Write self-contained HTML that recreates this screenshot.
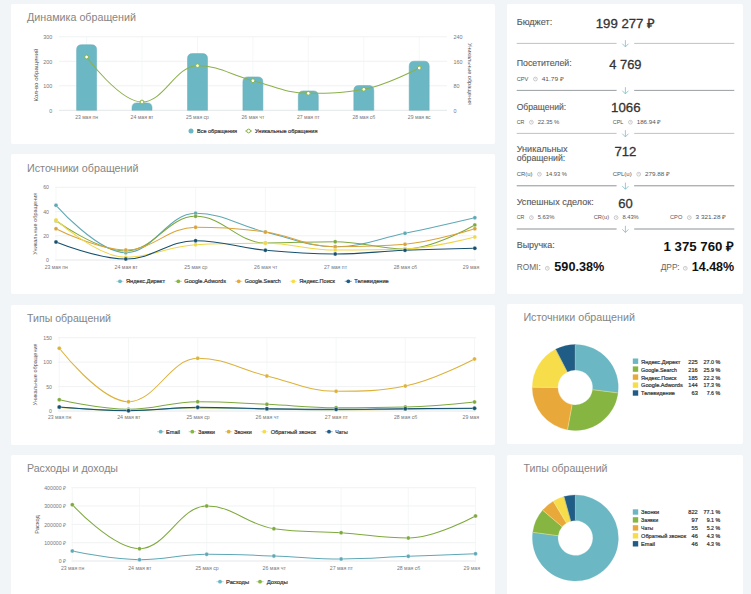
<!DOCTYPE html>
<html><head><meta charset="utf-8"><title>Dashboard</title>
<style>
html,body{margin:0;padding:0}
body{width:751px;height:594px;overflow:hidden;background:#f2f5f8;font-family:"Liberation Sans",sans-serif;position:relative}
#w{position:absolute;left:-20px;top:-20px;width:791px;height:634px;background:#f2f5f8}
#c{position:absolute;left:20px;top:20px;width:751px;height:594px}
.p{position:absolute;background:#fff;border-radius:2px}
svg{position:absolute;left:0;top:0;font-family:"Liberation Sans",sans-serif}
</style></head><body><div id="w"><div id="c">
<div class="p" style="left:11px;top:4px;width:484px;height:140.2px"></div>
<div class="p" style="left:11px;top:154.4px;width:484px;height:139.8px"></div>
<div class="p" style="left:11px;top:304.8px;width:484px;height:140px"></div>
<div class="p" style="left:11px;top:455.2px;width:484px;height:140px"></div>
<div class="p" style="left:507.4px;top:4px;width:235.4px;height:289.7px"></div>
<div class="p" style="left:507.4px;top:304.3px;width:235.4px;height:139.8px"></div>
<div class="p" style="left:507.4px;top:455.2px;width:235.4px;height:140px"></div>
<svg width="751" height="594" viewBox="0 0 751 594">
<line x1="59" y1="110.3" x2="447" y2="110.3" stroke="#d8dde0" stroke-width="0.7"/>
<text x="52.3" y="112.5" font-size="5.2" fill="#777" text-anchor="end" textLength="3.0" lengthAdjust="spacingAndGlyphs">0</text>
<text x="453.5" y="112.5" font-size="5.2" fill="#777" textLength="3.0" lengthAdjust="spacingAndGlyphs">0</text>
<line x1="59" y1="85.8" x2="447" y2="85.8" stroke="#e9ecee" stroke-width="0.7"/>
<text x="52.3" y="88.0" font-size="5.2" fill="#777" text-anchor="end" textLength="9.0" lengthAdjust="spacingAndGlyphs">100</text>
<text x="453.5" y="88.0" font-size="5.2" fill="#777" textLength="6.0" lengthAdjust="spacingAndGlyphs">80</text>
<line x1="59" y1="61.3" x2="447" y2="61.3" stroke="#e9ecee" stroke-width="0.7"/>
<text x="52.3" y="63.5" font-size="5.2" fill="#777" text-anchor="end" textLength="9.0" lengthAdjust="spacingAndGlyphs">200</text>
<text x="453.5" y="63.5" font-size="5.2" fill="#777" textLength="9.0" lengthAdjust="spacingAndGlyphs">160</text>
<line x1="59" y1="36.8" x2="447" y2="36.8" stroke="#e9ecee" stroke-width="0.7"/>
<text x="52.3" y="39.0" font-size="5.2" fill="#777" text-anchor="end" textLength="9.0" lengthAdjust="spacingAndGlyphs">300</text>
<text x="453.5" y="39.0" font-size="5.2" fill="#777" textLength="9.0" lengthAdjust="spacingAndGlyphs">240</text>
<line x1="86.6" y1="36.8" x2="86.6" y2="110.3" stroke="#f1f3f4" stroke-width="0.7"/>
<line x1="142.0" y1="36.8" x2="142.0" y2="110.3" stroke="#f1f3f4" stroke-width="0.7"/>
<line x1="197.5" y1="36.8" x2="197.5" y2="110.3" stroke="#f1f3f4" stroke-width="0.7"/>
<line x1="252.9" y1="36.8" x2="252.9" y2="110.3" stroke="#f1f3f4" stroke-width="0.7"/>
<line x1="308.3" y1="36.8" x2="308.3" y2="110.3" stroke="#f1f3f4" stroke-width="0.7"/>
<line x1="363.8" y1="36.8" x2="363.8" y2="110.3" stroke="#f1f3f4" stroke-width="0.7"/>
<line x1="419.2" y1="36.8" x2="419.2" y2="110.3" stroke="#f1f3f4" stroke-width="0.7"/>
<path d="M76.6,110.3 V49.7 Q76.6,44.7 81.6,44.7 H91.6 Q96.6,44.7 96.6,49.7 V110.3 Z" fill="#6bb8c4" stroke="#62adb9" stroke-width="0.5"/>
<path d="M132.0,110.3 V107.6 Q132.0,102.9 136.7,102.9 H147.3 Q152.0,102.9 152.0,107.6 V110.3 Z" fill="#6bb8c4" stroke="#62adb9" stroke-width="0.5"/>
<path d="M187.5,110.3 V58.6 Q187.5,53.6 192.5,53.6 H202.5 Q207.5,53.6 207.5,58.6 V110.3 Z" fill="#6bb8c4" stroke="#62adb9" stroke-width="0.5"/>
<path d="M242.9,110.3 V81.9 Q242.9,76.9 247.9,76.9 H257.9 Q262.9,76.9 262.9,81.9 V110.3 Z" fill="#6bb8c4" stroke="#62adb9" stroke-width="0.5"/>
<path d="M298.3,110.3 V95.9 Q298.3,90.9 303.3,90.9 H313.3 Q318.3,90.9 318.3,95.9 V110.3 Z" fill="#6bb8c4" stroke="#62adb9" stroke-width="0.5"/>
<path d="M353.8,110.3 V90.5 Q353.8,85.5 358.8,85.5 H368.8 Q373.8,85.5 373.8,90.5 V110.3 Z" fill="#6bb8c4" stroke="#62adb9" stroke-width="0.5"/>
<path d="M409.2,110.3 V66.2 Q409.2,61.2 414.2,61.2 H424.2 Q429.2,61.2 429.2,66.2 V110.3 Z" fill="#6bb8c4" stroke="#62adb9" stroke-width="0.5"/>
<path d="M86.60,57.00 C86.60,57.00 119.86,102.00 142.03,102.00 C164.20,102.00 175.29,65.70 197.46,65.70 C219.63,65.70 230.72,75.18 252.89,80.70 C275.06,86.22 286.15,93.30 308.32,93.30 C330.49,93.30 341.58,93.30 363.75,89.30 C385.92,85.30 419.18,68.00 419.18,68.00" fill="none" stroke="#8bb04a" stroke-width="1.05"/>
<circle cx="86.6" cy="57.0" r="1.9" fill="#fff" stroke="#86b541" stroke-width="1"/>
<circle cx="142.0" cy="102.0" r="1.9" fill="#fff" stroke="#86b541" stroke-width="1"/>
<circle cx="197.5" cy="65.7" r="1.9" fill="#fff" stroke="#86b541" stroke-width="1"/>
<circle cx="252.9" cy="80.7" r="1.9" fill="#fff" stroke="#86b541" stroke-width="1"/>
<circle cx="308.3" cy="93.3" r="1.9" fill="#fff" stroke="#86b541" stroke-width="1"/>
<circle cx="363.8" cy="89.3" r="1.9" fill="#fff" stroke="#86b541" stroke-width="1"/>
<circle cx="419.2" cy="68.0" r="1.9" fill="#fff" stroke="#86b541" stroke-width="1"/>
<text x="86.6" y="119.2" font-size="5.2" fill="#777" text-anchor="middle" textLength="22.8" lengthAdjust="spacingAndGlyphs">23 мая пн</text>
<text x="142.0" y="119.2" font-size="5.2" fill="#777" text-anchor="middle" textLength="22.8" lengthAdjust="spacingAndGlyphs">24 мая вт</text>
<text x="197.5" y="119.2" font-size="5.2" fill="#777" text-anchor="middle" textLength="22.8" lengthAdjust="spacingAndGlyphs">25 мая ср</text>
<text x="252.9" y="119.2" font-size="5.2" fill="#777" text-anchor="middle" textLength="22.8" lengthAdjust="spacingAndGlyphs">26 мая чт</text>
<text x="308.3" y="119.2" font-size="5.2" fill="#777" text-anchor="middle" textLength="22.8" lengthAdjust="spacingAndGlyphs">27 мая пт</text>
<text x="363.8" y="119.2" font-size="5.2" fill="#777" text-anchor="middle" textLength="22.8" lengthAdjust="spacingAndGlyphs">28 мая сб</text>
<text x="419.2" y="119.2" font-size="5.2" fill="#777" text-anchor="middle" textLength="22.8" lengthAdjust="spacingAndGlyphs">29 мая вс</text>
<text transform="translate(38.3,75) rotate(-90)" font-size="5.8" fill="#505050" text-anchor="middle" textLength="53" lengthAdjust="spacingAndGlyphs">Кол-во обращений</text>
<text transform="translate(468.2,74) rotate(90)" font-size="5.8" fill="#505050" text-anchor="middle" textLength="62" lengthAdjust="spacingAndGlyphs">Уникальные обращения</text>
<circle cx="191" cy="131" r="2.5" fill="#6bb8c4"/>
<text x="197.0" y="133.0" font-size="5.8" fill="#333" textLength="40.0" lengthAdjust="spacingAndGlyphs" stroke="#333" stroke-width="0.2">Все обращения</text>
<line x1="245.2" y1="131" x2="252" y2="131" stroke="#86b541" stroke-width="0.9"/>
<circle cx="248.6" cy="131" r="1.9" fill="#fff" stroke="#86b541" stroke-width="1"/>
<text x="255.0" y="133.0" font-size="5.8" fill="#333" textLength="62.5" lengthAdjust="spacingAndGlyphs" stroke="#333" stroke-width="0.2">Уникальные обращения</text>
<line x1="55" y1="260.0" x2="476" y2="260.0" stroke="#d8dde0" stroke-width="0.7"/>
<text x="49.0" y="262.1" font-size="5.2" fill="#777" text-anchor="end">0</text>
<line x1="55" y1="235.8" x2="476" y2="235.8" stroke="#e9ecee" stroke-width="0.7"/>
<text x="49.0" y="237.9" font-size="5.2" fill="#777" text-anchor="end">20</text>
<line x1="55" y1="211.5" x2="476" y2="211.5" stroke="#e9ecee" stroke-width="0.7"/>
<text x="49.0" y="213.6" font-size="5.2" fill="#777" text-anchor="end">40</text>
<line x1="55" y1="187.3" x2="476" y2="187.3" stroke="#e9ecee" stroke-width="0.7"/>
<text x="49.0" y="189.4" font-size="5.2" fill="#777" text-anchor="end">60</text>
<line x1="56.0" y1="187.3" x2="56.0" y2="260.0" stroke="#f1f3f4" stroke-width="0.7"/>
<line x1="125.8" y1="187.3" x2="125.8" y2="260.0" stroke="#f1f3f4" stroke-width="0.7"/>
<line x1="195.6" y1="187.3" x2="195.6" y2="260.0" stroke="#f1f3f4" stroke-width="0.7"/>
<line x1="265.4" y1="187.3" x2="265.4" y2="260.0" stroke="#f1f3f4" stroke-width="0.7"/>
<line x1="335.2" y1="187.3" x2="335.2" y2="260.0" stroke="#f1f3f4" stroke-width="0.7"/>
<line x1="405.0" y1="187.3" x2="405.0" y2="260.0" stroke="#f1f3f4" stroke-width="0.7"/>
<line x1="474.8" y1="187.3" x2="474.8" y2="260.0" stroke="#f1f3f4" stroke-width="0.7"/>
<path d="M56.00,205.30 C56.00,205.30 97.88,252.70 125.80,252.70 C153.72,252.70 167.68,213.30 195.60,213.30 C223.52,213.30 237.48,225.32 265.40,232.00 C293.32,238.68 307.28,246.70 335.20,246.70 C363.12,246.70 377.08,239.10 405.00,233.30 C432.92,227.50 474.80,217.70 474.80,217.70" fill="none" stroke="#5fa8b5" stroke-width="1.05"/>
<circle cx="56.0" cy="205.3" r="2.0" fill="#5fa8b5" stroke="#fff" stroke-width="0.3"/>
<circle cx="125.8" cy="252.7" r="2.0" fill="#5fa8b5" stroke="#fff" stroke-width="0.3"/>
<circle cx="195.6" cy="213.3" r="2.0" fill="#5fa8b5" stroke="#fff" stroke-width="0.3"/>
<circle cx="265.4" cy="232.0" r="2.0" fill="#5fa8b5" stroke="#fff" stroke-width="0.3"/>
<circle cx="335.2" cy="246.7" r="2.0" fill="#5fa8b5" stroke="#fff" stroke-width="0.3"/>
<circle cx="405.0" cy="233.3" r="2.0" fill="#5fa8b5" stroke="#fff" stroke-width="0.3"/>
<circle cx="474.8" cy="217.7" r="2.0" fill="#5fa8b5" stroke="#fff" stroke-width="0.3"/>
<path d="M56.00,220.70 C56.00,220.70 97.88,251.00 125.80,251.00 C153.72,251.00 167.68,216.30 195.60,216.30 C223.52,216.30 237.48,243.00 265.40,243.00 C293.32,243.00 307.28,241.70 335.20,241.70 C363.12,241.70 377.08,249.00 405.00,249.00 C432.92,249.00 474.80,225.00 474.80,225.00" fill="none" stroke="#7ea93d" stroke-width="1.05"/>
<circle cx="56.0" cy="220.7" r="2.0" fill="#7ea93d" stroke="#fff" stroke-width="0.3"/>
<circle cx="125.8" cy="251.0" r="2.0" fill="#7ea93d" stroke="#fff" stroke-width="0.3"/>
<circle cx="195.6" cy="216.3" r="2.0" fill="#7ea93d" stroke="#fff" stroke-width="0.3"/>
<circle cx="265.4" cy="243.0" r="2.0" fill="#7ea93d" stroke="#fff" stroke-width="0.3"/>
<circle cx="335.2" cy="241.7" r="2.0" fill="#7ea93d" stroke="#fff" stroke-width="0.3"/>
<circle cx="405.0" cy="249.0" r="2.0" fill="#7ea93d" stroke="#fff" stroke-width="0.3"/>
<circle cx="474.8" cy="225.0" r="2.0" fill="#7ea93d" stroke="#fff" stroke-width="0.3"/>
<path d="M56.00,228.70 C56.00,228.70 97.88,250.00 125.80,250.00 C153.72,250.00 167.68,227.30 195.60,227.30 C223.52,227.30 237.48,228.12 265.40,232.00 C293.32,235.88 307.28,246.70 335.20,246.70 C363.12,246.70 377.08,246.70 405.00,244.30 C432.92,241.90 474.80,228.70 474.80,228.70" fill="none" stroke="#d9a339" stroke-width="1.05"/>
<circle cx="56.0" cy="228.7" r="2.0" fill="#d9a339" stroke="#fff" stroke-width="0.3"/>
<circle cx="125.8" cy="250.0" r="2.0" fill="#d9a339" stroke="#fff" stroke-width="0.3"/>
<circle cx="195.6" cy="227.3" r="2.0" fill="#d9a339" stroke="#fff" stroke-width="0.3"/>
<circle cx="265.4" cy="232.0" r="2.0" fill="#d9a339" stroke="#fff" stroke-width="0.3"/>
<circle cx="335.2" cy="246.7" r="2.0" fill="#d9a339" stroke="#fff" stroke-width="0.3"/>
<circle cx="405.0" cy="244.3" r="2.0" fill="#d9a339" stroke="#fff" stroke-width="0.3"/>
<circle cx="474.8" cy="228.7" r="2.0" fill="#d9a339" stroke="#fff" stroke-width="0.3"/>
<path d="M56.00,220.00 C56.00,220.00 97.88,257.30 125.80,257.30 C153.72,257.30 167.68,246.10 195.60,244.70 C223.52,243.30 237.48,243.30 265.40,243.30 C293.32,243.30 307.28,250.00 335.20,250.00 C363.12,250.00 377.08,250.00 405.00,249.00 C432.92,248.00 474.80,237.00 474.80,237.00" fill="none" stroke="#f0d748" stroke-width="1.05"/>
<circle cx="56.0" cy="220.0" r="2.0" fill="#f0d748" stroke="#fff" stroke-width="0.3"/>
<circle cx="125.8" cy="257.3" r="2.0" fill="#f0d748" stroke="#fff" stroke-width="0.3"/>
<circle cx="195.6" cy="244.7" r="2.0" fill="#f0d748" stroke="#fff" stroke-width="0.3"/>
<circle cx="265.4" cy="243.3" r="2.0" fill="#f0d748" stroke="#fff" stroke-width="0.3"/>
<circle cx="335.2" cy="250.0" r="2.0" fill="#f0d748" stroke="#fff" stroke-width="0.3"/>
<circle cx="405.0" cy="249.0" r="2.0" fill="#f0d748" stroke="#fff" stroke-width="0.3"/>
<circle cx="474.8" cy="237.0" r="2.0" fill="#f0d748" stroke="#fff" stroke-width="0.3"/>
<path d="M56.00,242.00 C56.00,242.00 97.88,259.00 125.80,259.00 C153.72,259.00 167.68,240.70 195.60,240.70 C223.52,240.70 237.48,247.64 265.40,250.30 C293.32,252.96 307.28,254.00 335.20,254.00 C363.12,254.00 377.08,251.44 405.00,250.30 C432.92,249.16 474.80,248.30 474.80,248.30" fill="none" stroke="#16506f" stroke-width="1.05"/>
<circle cx="56.0" cy="242.0" r="2.0" fill="#16506f" stroke="#fff" stroke-width="0.3"/>
<circle cx="125.8" cy="259.0" r="2.0" fill="#16506f" stroke="#fff" stroke-width="0.3"/>
<circle cx="195.6" cy="240.7" r="2.0" fill="#16506f" stroke="#fff" stroke-width="0.3"/>
<circle cx="265.4" cy="250.3" r="2.0" fill="#16506f" stroke="#fff" stroke-width="0.3"/>
<circle cx="335.2" cy="254.0" r="2.0" fill="#16506f" stroke="#fff" stroke-width="0.3"/>
<circle cx="405.0" cy="250.3" r="2.0" fill="#16506f" stroke="#fff" stroke-width="0.3"/>
<circle cx="474.8" cy="248.3" r="2.0" fill="#16506f" stroke="#fff" stroke-width="0.3"/>
<text x="56.3" y="269.0" font-size="5.2" fill="#777" text-anchor="middle" textLength="23.2" lengthAdjust="spacingAndGlyphs">23 мая пн</text>
<text x="126.1" y="269.0" font-size="5.2" fill="#777" text-anchor="middle" textLength="23.2" lengthAdjust="spacingAndGlyphs">24 мая вт</text>
<text x="195.9" y="269.0" font-size="5.2" fill="#777" text-anchor="middle" textLength="23.2" lengthAdjust="spacingAndGlyphs">25 мая ср</text>
<text x="265.7" y="269.0" font-size="5.2" fill="#777" text-anchor="middle" textLength="23.2" lengthAdjust="spacingAndGlyphs">26 мая чт</text>
<text x="335.5" y="269.0" font-size="5.2" fill="#777" text-anchor="middle" textLength="23.2" lengthAdjust="spacingAndGlyphs">27 мая пт</text>
<text x="405.3" y="269.0" font-size="5.2" fill="#777" text-anchor="middle" textLength="23.2" lengthAdjust="spacingAndGlyphs">28 мая сб</text>
<text x="462.8" y="269.0" font-size="5.2" fill="#777" textLength="16.5" lengthAdjust="spacingAndGlyphs">29 мая</text>
<text transform="translate(37.0,223.7) rotate(-90)" font-size="5.8" fill="#505050" text-anchor="middle" textLength="62" lengthAdjust="spacingAndGlyphs">Уникальные обращения</text>
<line x1="116.4" y1="281.3" x2="123.6" y2="281.3" stroke="#6bb8c4" stroke-width="0.8" stroke-opacity="0.65"/>
<circle cx="120.0" cy="281.3" r="1.9" fill="#6bb8c4"/>
<text x="126.0" y="283.3" font-size="5.8" fill="#333" textLength="39.0" lengthAdjust="spacingAndGlyphs" stroke="#333" stroke-width="0.2">Яндекс.Директ</text>
<line x1="174.7" y1="281.3" x2="181.9" y2="281.3" stroke="#86b541" stroke-width="0.8" stroke-opacity="0.65"/>
<circle cx="178.3" cy="281.3" r="1.9" fill="#86b541"/>
<text x="184.3" y="283.3" font-size="5.8" fill="#333" textLength="41.7" lengthAdjust="spacingAndGlyphs" stroke="#333" stroke-width="0.2">Google.Adwords</text>
<line x1="235.1" y1="281.3" x2="242.3" y2="281.3" stroke="#e8a93a" stroke-width="0.8" stroke-opacity="0.65"/>
<circle cx="238.7" cy="281.3" r="1.9" fill="#e8a93a"/>
<text x="244.7" y="283.3" font-size="5.8" fill="#333" textLength="36.0" lengthAdjust="spacingAndGlyphs" stroke="#333" stroke-width="0.2">Google.Search</text>
<line x1="289.7" y1="281.3" x2="296.9" y2="281.3" stroke="#f7dd4a" stroke-width="0.8" stroke-opacity="0.65"/>
<circle cx="293.3" cy="281.3" r="1.9" fill="#f7dd4a"/>
<text x="299.3" y="283.3" font-size="5.8" fill="#333" textLength="35.7" lengthAdjust="spacingAndGlyphs" stroke="#333" stroke-width="0.2">Яндекс.Поиск</text>
<line x1="344.7" y1="281.3" x2="351.9" y2="281.3" stroke="#1f5d86" stroke-width="0.8" stroke-opacity="0.65"/>
<circle cx="348.3" cy="281.3" r="1.9" fill="#1f5d86"/>
<text x="354.3" y="283.3" font-size="5.8" fill="#333" textLength="34.4" lengthAdjust="spacingAndGlyphs" stroke="#333" stroke-width="0.2">Телевидение</text>
<line x1="58" y1="411.0" x2="476" y2="411.0" stroke="#d8dde0" stroke-width="0.7"/>
<text x="52.0" y="413.1" font-size="5.2" fill="#777" text-anchor="end">0</text>
<line x1="58" y1="386.6" x2="476" y2="386.6" stroke="#e9ecee" stroke-width="0.7"/>
<text x="52.0" y="388.7" font-size="5.2" fill="#777" text-anchor="end">50</text>
<line x1="58" y1="362.1" x2="476" y2="362.1" stroke="#e9ecee" stroke-width="0.7"/>
<text x="52.0" y="364.2" font-size="5.2" fill="#777" text-anchor="end">100</text>
<line x1="58" y1="337.7" x2="476" y2="337.7" stroke="#e9ecee" stroke-width="0.7"/>
<text x="52.0" y="339.8" font-size="5.2" fill="#777" text-anchor="end">150</text>
<line x1="59.3" y1="337.7" x2="59.3" y2="411.0" stroke="#f1f3f4" stroke-width="0.7"/>
<line x1="128.5" y1="337.7" x2="128.5" y2="411.0" stroke="#f1f3f4" stroke-width="0.7"/>
<line x1="197.7" y1="337.7" x2="197.7" y2="411.0" stroke="#f1f3f4" stroke-width="0.7"/>
<line x1="266.9" y1="337.7" x2="266.9" y2="411.0" stroke="#f1f3f4" stroke-width="0.7"/>
<line x1="336.1" y1="337.7" x2="336.1" y2="411.0" stroke="#f1f3f4" stroke-width="0.7"/>
<line x1="405.3" y1="337.7" x2="405.3" y2="411.0" stroke="#f1f3f4" stroke-width="0.7"/>
<line x1="474.5" y1="337.7" x2="474.5" y2="411.0" stroke="#f1f3f4" stroke-width="0.7"/>
<path d="M59.30,348.30 C59.30,348.30 100.82,401.70 128.50,401.70 C156.18,401.70 170.02,358.30 197.70,358.30 C225.38,358.30 239.22,369.40 266.90,376.00 C294.58,382.60 308.42,391.30 336.10,391.30 C363.78,391.30 377.62,391.30 405.30,386.00 C432.98,380.70 474.50,359.00 474.50,359.00" fill="none" stroke="#dcb23a" stroke-width="1.05"/>
<circle cx="59.3" cy="348.3" r="2.0" fill="#dcb23a" stroke="#fff" stroke-width="0.3"/>
<circle cx="128.5" cy="401.7" r="2.0" fill="#dcb23a" stroke="#fff" stroke-width="0.3"/>
<circle cx="197.7" cy="358.3" r="2.0" fill="#dcb23a" stroke="#fff" stroke-width="0.3"/>
<circle cx="266.9" cy="376.0" r="2.0" fill="#dcb23a" stroke="#fff" stroke-width="0.3"/>
<circle cx="336.1" cy="391.3" r="2.0" fill="#dcb23a" stroke="#fff" stroke-width="0.3"/>
<circle cx="405.3" cy="386.0" r="2.0" fill="#dcb23a" stroke="#fff" stroke-width="0.3"/>
<circle cx="474.5" cy="359.0" r="2.0" fill="#dcb23a" stroke="#fff" stroke-width="0.3"/>
<path d="M59.30,399.70 C59.30,399.70 100.82,409.30 128.50,409.30 C156.18,409.30 170.02,401.70 197.70,401.70 C225.38,401.70 239.22,403.10 266.90,404.30 C294.58,405.50 308.42,407.70 336.10,407.70 C363.78,407.70 377.62,407.70 405.30,407.00 C432.98,406.30 474.50,402.00 474.50,402.00" fill="none" stroke="#7ea93d" stroke-width="1.05"/>
<circle cx="59.3" cy="399.7" r="2.0" fill="#7ea93d" stroke="#fff" stroke-width="0.3"/>
<circle cx="128.5" cy="409.3" r="2.0" fill="#7ea93d" stroke="#fff" stroke-width="0.3"/>
<circle cx="197.7" cy="401.7" r="2.0" fill="#7ea93d" stroke="#fff" stroke-width="0.3"/>
<circle cx="266.9" cy="404.3" r="2.0" fill="#7ea93d" stroke="#fff" stroke-width="0.3"/>
<circle cx="336.1" cy="407.7" r="2.0" fill="#7ea93d" stroke="#fff" stroke-width="0.3"/>
<circle cx="405.3" cy="407.0" r="2.0" fill="#7ea93d" stroke="#fff" stroke-width="0.3"/>
<circle cx="474.5" cy="402.0" r="2.0" fill="#7ea93d" stroke="#fff" stroke-width="0.3"/>
<path d="M59.30,407.50 C59.30,407.50 100.82,410.50 128.50,410.50 C156.18,410.50 170.02,408.00 197.70,408.00 C225.38,408.00 239.22,408.64 266.90,409.00 C294.58,409.36 308.42,409.80 336.10,409.80 C363.78,409.80 377.62,409.54 405.30,409.30 C432.98,409.06 474.50,408.60 474.50,408.60" fill="none" stroke="#f0d748" stroke-width="1.05"/>
<circle cx="59.3" cy="407.5" r="2.0" fill="#f0d748" stroke="#fff" stroke-width="0.3"/>
<circle cx="128.5" cy="410.5" r="2.0" fill="#f0d748" stroke="#fff" stroke-width="0.3"/>
<circle cx="197.7" cy="408.0" r="2.0" fill="#f0d748" stroke="#fff" stroke-width="0.3"/>
<circle cx="266.9" cy="409.0" r="2.0" fill="#f0d748" stroke="#fff" stroke-width="0.3"/>
<circle cx="336.1" cy="409.8" r="2.0" fill="#f0d748" stroke="#fff" stroke-width="0.3"/>
<circle cx="405.3" cy="409.3" r="2.0" fill="#f0d748" stroke="#fff" stroke-width="0.3"/>
<circle cx="474.5" cy="408.6" r="2.0" fill="#f0d748" stroke="#fff" stroke-width="0.3"/>
<path d="M59.30,407.30 C59.30,407.30 100.82,410.40 128.50,410.40 C156.18,410.40 170.02,407.60 197.70,407.60 C225.38,407.60 239.22,408.50 266.90,408.90 C294.58,409.30 308.42,409.60 336.10,409.60 C363.78,409.60 377.62,409.22 405.30,409.00 C432.98,408.78 474.50,408.50 474.50,408.50" fill="none" stroke="#5fa8b5" stroke-width="1.05"/>
<circle cx="59.3" cy="407.3" r="2.0" fill="#5fa8b5" stroke="#fff" stroke-width="0.3"/>
<circle cx="128.5" cy="410.4" r="2.0" fill="#5fa8b5" stroke="#fff" stroke-width="0.3"/>
<circle cx="197.7" cy="407.6" r="2.0" fill="#5fa8b5" stroke="#fff" stroke-width="0.3"/>
<circle cx="266.9" cy="408.9" r="2.0" fill="#5fa8b5" stroke="#fff" stroke-width="0.3"/>
<circle cx="336.1" cy="409.6" r="2.0" fill="#5fa8b5" stroke="#fff" stroke-width="0.3"/>
<circle cx="405.3" cy="409.0" r="2.0" fill="#5fa8b5" stroke="#fff" stroke-width="0.3"/>
<circle cx="474.5" cy="408.5" r="2.0" fill="#5fa8b5" stroke="#fff" stroke-width="0.3"/>
<path d="M59.30,407.00 C59.30,407.00 100.82,410.70 128.50,410.70 C156.18,410.70 170.02,407.30 197.70,407.30 C225.38,407.30 239.22,408.30 266.90,408.70 C294.58,409.10 308.42,409.30 336.10,409.30 C363.78,409.30 377.62,408.90 405.30,408.70 C432.98,408.50 474.50,408.30 474.50,408.30" fill="none" stroke="#16506f" stroke-width="1.05"/>
<circle cx="59.3" cy="407.0" r="2.0" fill="#16506f" stroke="#fff" stroke-width="0.3"/>
<circle cx="128.5" cy="410.7" r="2.0" fill="#16506f" stroke="#fff" stroke-width="0.3"/>
<circle cx="197.7" cy="407.3" r="2.0" fill="#16506f" stroke="#fff" stroke-width="0.3"/>
<circle cx="266.9" cy="408.7" r="2.0" fill="#16506f" stroke="#fff" stroke-width="0.3"/>
<circle cx="336.1" cy="409.3" r="2.0" fill="#16506f" stroke="#fff" stroke-width="0.3"/>
<circle cx="405.3" cy="408.7" r="2.0" fill="#16506f" stroke="#fff" stroke-width="0.3"/>
<circle cx="474.5" cy="408.3" r="2.0" fill="#16506f" stroke="#fff" stroke-width="0.3"/>
<text x="59.6" y="419.3" font-size="5.2" fill="#777" text-anchor="middle" textLength="23.2" lengthAdjust="spacingAndGlyphs">23 мая пн</text>
<text x="128.8" y="419.3" font-size="5.2" fill="#777" text-anchor="middle" textLength="23.2" lengthAdjust="spacingAndGlyphs">24 мая вт</text>
<text x="198.0" y="419.3" font-size="5.2" fill="#777" text-anchor="middle" textLength="23.2" lengthAdjust="spacingAndGlyphs">25 мая ср</text>
<text x="267.2" y="419.3" font-size="5.2" fill="#777" text-anchor="middle" textLength="23.2" lengthAdjust="spacingAndGlyphs">26 мая чт</text>
<text x="336.4" y="419.3" font-size="5.2" fill="#777" text-anchor="middle" textLength="23.2" lengthAdjust="spacingAndGlyphs">27 мая пт</text>
<text x="405.6" y="419.3" font-size="5.2" fill="#777" text-anchor="middle" textLength="23.2" lengthAdjust="spacingAndGlyphs">28 мая сб</text>
<text x="462.5" y="419.3" font-size="5.2" fill="#777" textLength="16.5" lengthAdjust="spacingAndGlyphs">29 мая</text>
<text transform="translate(37.0,374.4) rotate(-90)" font-size="5.8" fill="#505050" text-anchor="middle" textLength="62" lengthAdjust="spacingAndGlyphs">Уникальные обращения</text>
<line x1="157.1" y1="431.7" x2="164.3" y2="431.7" stroke="#6bb8c4" stroke-width="0.8" stroke-opacity="0.65"/>
<circle cx="160.7" cy="431.7" r="1.9" fill="#6bb8c4"/>
<text x="166.0" y="433.7" font-size="5.8" fill="#333" textLength="14.0" lengthAdjust="spacingAndGlyphs" stroke="#333" stroke-width="0.2">Email</text>
<line x1="188.7" y1="431.7" x2="195.9" y2="431.7" stroke="#86b541" stroke-width="0.8" stroke-opacity="0.65"/>
<circle cx="192.3" cy="431.7" r="1.9" fill="#86b541"/>
<text x="198.3" y="433.7" font-size="5.8" fill="#333" textLength="16.7" lengthAdjust="spacingAndGlyphs" stroke="#333" stroke-width="0.2">Заявки</text>
<line x1="225.1" y1="431.7" x2="232.3" y2="431.7" stroke="#deb03c" stroke-width="0.8" stroke-opacity="0.65"/>
<circle cx="228.7" cy="431.7" r="1.9" fill="#deb03c"/>
<text x="234.3" y="433.7" font-size="5.8" fill="#333" textLength="17.4" lengthAdjust="spacingAndGlyphs" stroke="#333" stroke-width="0.2">Звонки</text>
<line x1="260.7" y1="431.7" x2="267.9" y2="431.7" stroke="#f7dd4a" stroke-width="0.8" stroke-opacity="0.65"/>
<circle cx="264.3" cy="431.7" r="1.9" fill="#f7dd4a"/>
<text x="270.7" y="433.7" font-size="5.8" fill="#333" textLength="45.3" lengthAdjust="spacingAndGlyphs" stroke="#333" stroke-width="0.2">Обратный звонок</text>
<line x1="325.4" y1="431.7" x2="332.6" y2="431.7" stroke="#1f5d86" stroke-width="0.8" stroke-opacity="0.65"/>
<circle cx="329.0" cy="431.7" r="1.9" fill="#1f5d86"/>
<text x="335.3" y="433.7" font-size="5.8" fill="#333" textLength="12.4" lengthAdjust="spacingAndGlyphs" stroke="#333" stroke-width="0.2">Чаты</text>
<line x1="71.5" y1="561.0" x2="476" y2="561.0" stroke="#d8dde0" stroke-width="0.7"/>
<text x="66.0" y="563.1" font-size="5.2" fill="#777" text-anchor="end">0 ₽</text>
<line x1="71.5" y1="542.7" x2="476" y2="542.7" stroke="#e9ecee" stroke-width="0.7"/>
<text x="66.0" y="544.8" font-size="5.2" fill="#777" text-anchor="end">100000 ₽</text>
<line x1="71.5" y1="524.4" x2="476" y2="524.4" stroke="#e9ecee" stroke-width="0.7"/>
<text x="66.0" y="526.5" font-size="5.2" fill="#777" text-anchor="end">200000 ₽</text>
<line x1="71.5" y1="506.0" x2="476" y2="506.0" stroke="#e9ecee" stroke-width="0.7"/>
<text x="66.0" y="508.1" font-size="5.2" fill="#777" text-anchor="end">300000 ₽</text>
<line x1="71.5" y1="487.7" x2="476" y2="487.7" stroke="#e9ecee" stroke-width="0.7"/>
<text x="66.0" y="489.8" font-size="5.2" fill="#777" text-anchor="end">400000 ₽</text>
<line x1="72.3" y1="487.7" x2="72.3" y2="561.0" stroke="#f1f3f4" stroke-width="0.7"/>
<line x1="139.5" y1="487.7" x2="139.5" y2="561.0" stroke="#f1f3f4" stroke-width="0.7"/>
<line x1="206.7" y1="487.7" x2="206.7" y2="561.0" stroke="#f1f3f4" stroke-width="0.7"/>
<line x1="273.9" y1="487.7" x2="273.9" y2="561.0" stroke="#f1f3f4" stroke-width="0.7"/>
<line x1="341.1" y1="487.7" x2="341.1" y2="561.0" stroke="#f1f3f4" stroke-width="0.7"/>
<line x1="408.3" y1="487.7" x2="408.3" y2="561.0" stroke="#f1f3f4" stroke-width="0.7"/>
<line x1="475.5" y1="487.7" x2="475.5" y2="561.0" stroke="#f1f3f4" stroke-width="0.7"/>
<path d="M72.30,504.70 C72.30,504.70 112.62,548.70 139.50,548.70 C166.38,548.70 179.82,506.00 206.70,506.00 C233.58,506.00 247.02,524.70 273.90,528.70 C300.78,532.70 314.22,530.84 341.10,532.70 C367.98,534.56 381.42,538.00 408.30,538.00 C435.18,538.00 475.50,516.00 475.50,516.00" fill="none" stroke="#7ea93d" stroke-width="1.05"/>
<circle cx="72.3" cy="504.7" r="2.0" fill="#7ea93d" stroke="#fff" stroke-width="0.3"/>
<circle cx="139.5" cy="548.7" r="2.0" fill="#7ea93d" stroke="#fff" stroke-width="0.3"/>
<circle cx="206.7" cy="506.0" r="2.0" fill="#7ea93d" stroke="#fff" stroke-width="0.3"/>
<circle cx="273.9" cy="528.7" r="2.0" fill="#7ea93d" stroke="#fff" stroke-width="0.3"/>
<circle cx="341.1" cy="532.7" r="2.0" fill="#7ea93d" stroke="#fff" stroke-width="0.3"/>
<circle cx="408.3" cy="538.0" r="2.0" fill="#7ea93d" stroke="#fff" stroke-width="0.3"/>
<circle cx="475.5" cy="516.0" r="2.0" fill="#7ea93d" stroke="#fff" stroke-width="0.3"/>
<path d="M72.30,551.00 C72.30,551.00 112.62,559.70 139.50,559.70 C166.38,559.70 179.82,554.30 206.70,554.30 C233.58,554.30 247.02,555.06 273.90,556.00 C300.78,556.94 314.22,559.00 341.10,559.00 C367.98,559.00 381.42,557.36 408.30,556.30 C435.18,555.24 475.50,553.70 475.50,553.70" fill="none" stroke="#5fa8b5" stroke-width="1.05"/>
<circle cx="72.3" cy="551.0" r="2.0" fill="#5fa8b5" stroke="#fff" stroke-width="0.3"/>
<circle cx="139.5" cy="559.7" r="2.0" fill="#5fa8b5" stroke="#fff" stroke-width="0.3"/>
<circle cx="206.7" cy="554.3" r="2.0" fill="#5fa8b5" stroke="#fff" stroke-width="0.3"/>
<circle cx="273.9" cy="556.0" r="2.0" fill="#5fa8b5" stroke="#fff" stroke-width="0.3"/>
<circle cx="341.1" cy="559.0" r="2.0" fill="#5fa8b5" stroke="#fff" stroke-width="0.3"/>
<circle cx="408.3" cy="556.3" r="2.0" fill="#5fa8b5" stroke="#fff" stroke-width="0.3"/>
<circle cx="475.5" cy="553.7" r="2.0" fill="#5fa8b5" stroke="#fff" stroke-width="0.3"/>
<text x="72.6" y="569.7" font-size="5.2" fill="#777" text-anchor="middle" textLength="23.2" lengthAdjust="spacingAndGlyphs">23 мая пн</text>
<text x="139.8" y="569.7" font-size="5.2" fill="#777" text-anchor="middle" textLength="23.2" lengthAdjust="spacingAndGlyphs">24 мая вт</text>
<text x="207.0" y="569.7" font-size="5.2" fill="#777" text-anchor="middle" textLength="23.2" lengthAdjust="spacingAndGlyphs">25 мая ср</text>
<text x="274.2" y="569.7" font-size="5.2" fill="#777" text-anchor="middle" textLength="23.2" lengthAdjust="spacingAndGlyphs">26 мая чт</text>
<text x="341.4" y="569.7" font-size="5.2" fill="#777" text-anchor="middle" textLength="23.2" lengthAdjust="spacingAndGlyphs">27 мая пт</text>
<text x="408.6" y="569.7" font-size="5.2" fill="#777" text-anchor="middle" textLength="23.2" lengthAdjust="spacingAndGlyphs">28 мая сб</text>
<text x="463.5" y="569.7" font-size="5.2" fill="#777" textLength="16.5" lengthAdjust="spacingAndGlyphs">29 мая</text>
<text transform="translate(38.6,524.4) rotate(-90)" font-size="5.8" fill="#505050" text-anchor="middle" textLength="18.5" lengthAdjust="spacingAndGlyphs">Расход</text>
<line x1="216.4" y1="581.7" x2="223.6" y2="581.7" stroke="#6bb8c4" stroke-width="0.8" stroke-opacity="0.65"/>
<circle cx="220.0" cy="581.7" r="1.9" fill="#6bb8c4"/>
<text x="226.0" y="583.7" font-size="5.8" fill="#333" textLength="23.0" lengthAdjust="spacingAndGlyphs" stroke="#333" stroke-width="0.2">Расходы</text>
<line x1="256.4" y1="581.7" x2="263.6" y2="581.7" stroke="#86b541" stroke-width="0.8" stroke-opacity="0.65"/>
<circle cx="260.0" cy="581.7" r="1.9" fill="#86b541"/>
<text x="266.7" y="583.7" font-size="5.8" fill="#333" textLength="21.0" lengthAdjust="spacingAndGlyphs" stroke="#333" stroke-width="0.2">Доходы</text>
<path d="M575.30,344.50 A43,43 0 0 1 617.96,392.89 L592.66,389.69 A17.5,17.5 0 0 0 575.30,370.00 Z" fill="#6bb8c4" stroke="#6bb8c4" stroke-width="0.25"/>
<path d="M617.96,392.89 A43,43 0 0 1 567.51,429.79 L572.13,404.71 A17.5,17.5 0 0 0 592.66,389.69 Z" fill="#86b541" stroke="#86b541" stroke-width="0.25"/>
<path d="M567.51,429.79 A43,43 0 0 1 532.30,387.23 L557.80,387.39 A17.5,17.5 0 0 0 572.13,404.71 Z" fill="#e8a93a" stroke="#e8a93a" stroke-width="0.25"/>
<path d="M532.30,387.23 A43,43 0 0 1 555.54,349.31 L567.26,371.96 A17.5,17.5 0 0 0 557.80,387.39 Z" fill="#f7dd4a" stroke="#f7dd4a" stroke-width="0.25"/>
<path d="M555.54,349.31 A43,43 0 0 1 575.30,344.50 L575.30,370.00 A17.5,17.5 0 0 0 567.26,371.96 Z" fill="#1f5d86" stroke="#1f5d86" stroke-width="0.25"/>
<line x1="575.30" y1="370.00" x2="575.30" y2="344.50" stroke="#f6eaa4" stroke-width="0.5"/>
<line x1="592.66" y1="389.69" x2="617.96" y2="392.89" stroke="#f6eaa4" stroke-width="0.5"/>
<line x1="572.13" y1="404.71" x2="567.51" y2="429.79" stroke="#f6eaa4" stroke-width="0.5"/>
<line x1="557.80" y1="387.39" x2="532.30" y2="387.23" stroke="#f6eaa4" stroke-width="0.5"/>
<line x1="567.26" y1="371.96" x2="555.54" y2="349.31" stroke="#f6eaa4" stroke-width="0.5"/>
<rect x="632.8" y="358.5" width="5.4" height="5.4" fill="#6bb8c4"/>
<text x="641.1" y="363.6" font-size="5.4" fill="#333" textLength="39.2" lengthAdjust="spacingAndGlyphs" stroke="#333" stroke-width="0.2">Яндекс.Директ</text>
<text x="688.3" y="363.6" font-size="5.4" fill="#333" textLength="9.4" lengthAdjust="spacingAndGlyphs" stroke="#333" stroke-width="0.2">225</text>
<text x="703.4" y="363.6" font-size="5.4" fill="#333" textLength="16.8" lengthAdjust="spacingAndGlyphs" stroke="#333" stroke-width="0.2">27.0 %</text>
<rect x="632.8" y="366.4" width="5.4" height="5.4" fill="#86b541"/>
<text x="641.1" y="371.5" font-size="5.4" fill="#333" textLength="35.9" lengthAdjust="spacingAndGlyphs" stroke="#333" stroke-width="0.2">Google.Search</text>
<text x="688.3" y="371.5" font-size="5.4" fill="#333" textLength="9.4" lengthAdjust="spacingAndGlyphs" stroke="#333" stroke-width="0.2">216</text>
<text x="703.4" y="371.5" font-size="5.4" fill="#333" textLength="16.8" lengthAdjust="spacingAndGlyphs" stroke="#333" stroke-width="0.2">25.9 %</text>
<rect x="632.8" y="374.4" width="5.4" height="5.4" fill="#e8a93a"/>
<text x="641.1" y="379.5" font-size="5.4" fill="#333" textLength="35.4" lengthAdjust="spacingAndGlyphs" stroke="#333" stroke-width="0.2">Яндекс.Поиск</text>
<text x="688.3" y="379.5" font-size="5.4" fill="#333" textLength="9.4" lengthAdjust="spacingAndGlyphs" stroke="#333" stroke-width="0.2">185</text>
<text x="703.4" y="379.5" font-size="5.4" fill="#333" textLength="16.8" lengthAdjust="spacingAndGlyphs" stroke="#333" stroke-width="0.2">22.2 %</text>
<rect x="632.8" y="382.4" width="5.4" height="5.4" fill="#f7dd4a"/>
<text x="641.1" y="387.4" font-size="5.4" fill="#333" textLength="41.7" lengthAdjust="spacingAndGlyphs" stroke="#333" stroke-width="0.2">Google.Adwords</text>
<text x="688.3" y="387.4" font-size="5.4" fill="#333" textLength="9.4" lengthAdjust="spacingAndGlyphs" stroke="#333" stroke-width="0.2">144</text>
<text x="703.4" y="387.4" font-size="5.4" fill="#333" textLength="16.8" lengthAdjust="spacingAndGlyphs" stroke="#333" stroke-width="0.2">17.3 %</text>
<rect x="632.8" y="390.3" width="5.4" height="5.4" fill="#1f5d86"/>
<text x="641.1" y="395.4" font-size="5.4" fill="#333" textLength="33.7" lengthAdjust="spacingAndGlyphs" stroke="#333" stroke-width="0.2">Телевидение</text>
<text x="691.5" y="395.4" font-size="5.4" fill="#333" textLength="6.3" lengthAdjust="spacingAndGlyphs" stroke="#333" stroke-width="0.2">63</text>
<text x="706.7" y="395.4" font-size="5.4" fill="#333" textLength="13.5" lengthAdjust="spacingAndGlyphs" stroke="#333" stroke-width="0.2">7.6 %</text>
<path d="M575.40,495.00 A43,43 0 1 1 532.77,532.34 L558.05,535.70 A17.5,17.5 0 1 0 575.40,520.50 Z" fill="#6bb8c4" stroke="#6bb8c4" stroke-width="0.25"/>
<path d="M532.77,532.34 A43,43 0 0 1 542.61,510.18 L562.06,526.68 A17.5,17.5 0 0 0 558.05,535.70 Z" fill="#86b541" stroke="#86b541" stroke-width="0.25"/>
<path d="M542.61,510.18 A43,43 0 0 1 553.28,501.13 L566.40,522.99 A17.5,17.5 0 0 0 562.06,526.68 Z" fill="#e8a93a" stroke="#e8a93a" stroke-width="0.25"/>
<path d="M553.28,501.13 A43,43 0 0 1 563.92,496.56 L570.73,521.13 A17.5,17.5 0 0 0 566.40,522.99 Z" fill="#f7dd4a" stroke="#f7dd4a" stroke-width="0.25"/>
<path d="M563.92,496.56 A43,43 0 0 1 575.40,495.00 L575.40,520.50 A17.5,17.5 0 0 0 570.73,521.13 Z" fill="#1f5d86" stroke="#1f5d86" stroke-width="0.25"/>
<line x1="575.40" y1="520.50" x2="575.40" y2="495.00" stroke="#f6eaa4" stroke-width="0.5"/>
<line x1="558.05" y1="535.70" x2="532.77" y2="532.34" stroke="#f6eaa4" stroke-width="0.5"/>
<line x1="562.06" y1="526.68" x2="542.61" y2="510.18" stroke="#f6eaa4" stroke-width="0.5"/>
<line x1="566.40" y1="522.99" x2="553.28" y2="501.13" stroke="#f6eaa4" stroke-width="0.5"/>
<line x1="570.73" y1="521.13" x2="563.92" y2="496.56" stroke="#f6eaa4" stroke-width="0.5"/>
<rect x="632.8" y="509.3" width="5.4" height="5.4" fill="#6bb8c4"/>
<text x="641.1" y="514.4" font-size="5.4" fill="#333" textLength="18.0" lengthAdjust="spacingAndGlyphs" stroke="#333" stroke-width="0.2">Звонки</text>
<text x="688.3" y="514.4" font-size="5.4" fill="#333" textLength="9.4" lengthAdjust="spacingAndGlyphs" stroke="#333" stroke-width="0.2">822</text>
<text x="703.4" y="514.4" font-size="5.4" fill="#333" textLength="16.8" lengthAdjust="spacingAndGlyphs" stroke="#333" stroke-width="0.2">77.1 %</text>
<rect x="632.8" y="517.2" width="5.4" height="5.4" fill="#86b541"/>
<text x="641.1" y="522.4" font-size="5.4" fill="#333" textLength="17.0" lengthAdjust="spacingAndGlyphs" stroke="#333" stroke-width="0.2">Заявки</text>
<text x="691.5" y="522.4" font-size="5.4" fill="#333" textLength="6.3" lengthAdjust="spacingAndGlyphs" stroke="#333" stroke-width="0.2">97</text>
<text x="706.7" y="522.4" font-size="5.4" fill="#333" textLength="13.5" lengthAdjust="spacingAndGlyphs" stroke="#333" stroke-width="0.2">9.1 %</text>
<rect x="632.8" y="525.2" width="5.4" height="5.4" fill="#e8a93a"/>
<text x="641.1" y="530.3" font-size="5.4" fill="#333" textLength="12.0" lengthAdjust="spacingAndGlyphs" stroke="#333" stroke-width="0.2">Чаты</text>
<text x="691.5" y="530.3" font-size="5.4" fill="#333" textLength="6.3" lengthAdjust="spacingAndGlyphs" stroke="#333" stroke-width="0.2">55</text>
<text x="706.7" y="530.3" font-size="5.4" fill="#333" textLength="13.5" lengthAdjust="spacingAndGlyphs" stroke="#333" stroke-width="0.2">5.2 %</text>
<rect x="632.8" y="533.1" width="5.4" height="5.4" fill="#f7dd4a"/>
<text x="641.1" y="538.2" font-size="5.4" fill="#333" textLength="45.0" lengthAdjust="spacingAndGlyphs" stroke="#333" stroke-width="0.2">Обратный звонок</text>
<text x="691.5" y="538.2" font-size="5.4" fill="#333" textLength="6.3" lengthAdjust="spacingAndGlyphs" stroke="#333" stroke-width="0.2">46</text>
<text x="706.7" y="538.2" font-size="5.4" fill="#333" textLength="13.5" lengthAdjust="spacingAndGlyphs" stroke="#333" stroke-width="0.2">4.3 %</text>
<rect x="632.8" y="541.1" width="5.4" height="5.4" fill="#1f5d86"/>
<text x="641.1" y="546.2" font-size="5.4" fill="#333" textLength="14.0" lengthAdjust="spacingAndGlyphs" stroke="#333" stroke-width="0.2">Email</text>
<text x="691.5" y="546.2" font-size="5.4" fill="#333" textLength="6.3" lengthAdjust="spacingAndGlyphs" stroke="#333" stroke-width="0.2">46</text>
<text x="706.7" y="546.2" font-size="5.4" fill="#333" textLength="13.5" lengthAdjust="spacingAndGlyphs" stroke="#333" stroke-width="0.2">4.3 %</text>
<text x="27.0" y="20.8" font-size="11.2" fill="#858585" textLength="109.0" lengthAdjust="spacingAndGlyphs">Динамика обращений</text>
<text x="27.0" y="171.8" font-size="11.2" fill="#858585" textLength="111.5" lengthAdjust="spacingAndGlyphs">Источники обращений</text>
<text x="27.0" y="321.8" font-size="11.2" fill="#858585" textLength="84.0" lengthAdjust="spacingAndGlyphs">Типы обращений</text>
<text x="27.0" y="472.0" font-size="11.2" fill="#858585" textLength="91.0" lengthAdjust="spacingAndGlyphs">Расходы и доходы</text>
<text x="523.4" y="321.4" font-size="11.2" fill="#858585" textLength="111.5" lengthAdjust="spacingAndGlyphs">Источники обращений</text>
<text x="523.5" y="471.8" font-size="11.2" fill="#858585" textLength="84.0" lengthAdjust="spacingAndGlyphs">Типы обращений</text>
<text x="516.7" y="24.8" font-size="9.3" fill="#585858" textLength="35.5" lengthAdjust="spacingAndGlyphs" stroke="#585858" stroke-width="0.12">Бюджет:</text>
<text x="625.5" y="27.5" font-size="13" fill="#333" text-anchor="middle" textLength="59.5" lengthAdjust="spacingAndGlyphs" stroke="#333" stroke-width="0.3">199 277 ₽</text>
<line x1="516.7" y1="43.4" x2="616.6" y2="43.4" stroke="#a3a9ad" stroke-width="0.7"/>
<line x1="634.2" y1="43.4" x2="734.3" y2="43.4" stroke="#a3a9ad" stroke-width="0.7"/>
<path d="M625.4,40.2 V46.7 M622.3,43.7 L625.4,46.9 L628.5,43.7" fill="none" stroke="#74bac6" stroke-width="0.75"/>
<text x="516.7" y="66.3" font-size="9.3" fill="#585858" textLength="55.0" lengthAdjust="spacingAndGlyphs" stroke="#585858" stroke-width="0.12">Посетителей:</text>
<text x="625.4" y="69.0" font-size="13" fill="#333" text-anchor="middle" textLength="32.3" lengthAdjust="spacingAndGlyphs" stroke="#333" stroke-width="0.3">4 769</text>
<text x="516.7" y="80.8" font-size="5.7" fill="#555" textLength="11.7" lengthAdjust="spacingAndGlyphs">CPV</text>
<circle cx="535.4" cy="79.0" r="1.9" fill="none" stroke="#999" stroke-width="0.5"/>
<path d="M535.4,77.9 V79.0 H536.3" fill="none" stroke="#999" stroke-width="0.35"/>
<text x="541.7" y="80.8" font-size="5.7" fill="#555" textLength="21.7" lengthAdjust="spacingAndGlyphs">41.79 ₽</text>
<line x1="516.7" y1="90.4" x2="616.6" y2="90.4" stroke="#8d9397" stroke-width="0.9"/>
<line x1="634.2" y1="90.4" x2="734.3" y2="90.4" stroke="#8d9397" stroke-width="0.9"/>
<path d="M625.4,87.2 V93.7 M622.3,90.7 L625.4,93.9 L628.5,90.7" fill="none" stroke="#74bac6" stroke-width="0.75"/>
<text x="516.7" y="109.7" font-size="9.3" fill="#585858" textLength="49.5" lengthAdjust="spacingAndGlyphs" stroke="#585858" stroke-width="0.12">Обращений:</text>
<text x="625.8" y="112.0" font-size="13" fill="#333" text-anchor="middle" textLength="29.5" lengthAdjust="spacingAndGlyphs" stroke="#333" stroke-width="0.3">1066</text>
<text x="516.7" y="124.0" font-size="5.7" fill="#555" textLength="7.7" lengthAdjust="spacingAndGlyphs">CR</text>
<circle cx="531.4" cy="122.2" r="1.9" fill="none" stroke="#999" stroke-width="0.5"/>
<path d="M531.4,121.1 V122.2 H532.3" fill="none" stroke="#999" stroke-width="0.35"/>
<text x="537.7" y="124.0" font-size="5.7" fill="#555" textLength="21.7" lengthAdjust="spacingAndGlyphs">22.35 %</text>
<text x="612.7" y="124.0" font-size="5.7" fill="#555" textLength="10.7" lengthAdjust="spacingAndGlyphs">CPL</text>
<circle cx="630.4" cy="122.2" r="1.9" fill="none" stroke="#999" stroke-width="0.5"/>
<path d="M630.4,121.1 V122.2 H631.3" fill="none" stroke="#999" stroke-width="0.35"/>
<text x="636.7" y="124.0" font-size="5.7" fill="#555" textLength="24.0" lengthAdjust="spacingAndGlyphs">186.94 ₽</text>
<line x1="516.7" y1="133.4" x2="616.6" y2="133.4" stroke="#a3a9ad" stroke-width="0.7"/>
<line x1="634.2" y1="133.4" x2="734.3" y2="133.4" stroke="#a3a9ad" stroke-width="0.7"/>
<path d="M625.4,130.2 V136.7 M622.3,133.7 L625.4,136.9 L628.5,133.7" fill="none" stroke="#74bac6" stroke-width="0.75"/>
<text x="516.7" y="152.3" font-size="9.3" fill="#585858" textLength="51.0" lengthAdjust="spacingAndGlyphs" stroke="#585858" stroke-width="0.12">Уникальных</text>
<text x="516.7" y="161.3" font-size="9.3" fill="#585858" textLength="48.5" lengthAdjust="spacingAndGlyphs" stroke="#585858" stroke-width="0.12">обращений:</text>
<text x="625.4" y="155.5" font-size="13" fill="#333" text-anchor="middle" textLength="22.0" lengthAdjust="spacingAndGlyphs" stroke="#333" stroke-width="0.3">712</text>
<text x="516.7" y="176.0" font-size="5.7" fill="#555" textLength="15.7" lengthAdjust="spacingAndGlyphs">CR(u)</text>
<circle cx="539.4" cy="174.2" r="1.9" fill="none" stroke="#999" stroke-width="0.5"/>
<path d="M539.4,173.1 V174.2 H540.3" fill="none" stroke="#999" stroke-width="0.35"/>
<text x="545.7" y="176.0" font-size="5.7" fill="#555" textLength="21.3" lengthAdjust="spacingAndGlyphs">14.93 %</text>
<text x="612.7" y="176.0" font-size="5.7" fill="#555" textLength="19.0" lengthAdjust="spacingAndGlyphs">CPL(u)</text>
<circle cx="638.7" cy="174.2" r="1.9" fill="none" stroke="#999" stroke-width="0.5"/>
<path d="M638.7,173.1 V174.2 H639.6" fill="none" stroke="#999" stroke-width="0.35"/>
<text x="645.0" y="176.0" font-size="5.7" fill="#555" textLength="24.3" lengthAdjust="spacingAndGlyphs">279.88 ₽</text>
<line x1="516.7" y1="185.8" x2="616.6" y2="185.8" stroke="#8d9397" stroke-width="1"/>
<line x1="634.2" y1="185.8" x2="734.3" y2="185.8" stroke="#8d9397" stroke-width="1"/>
<path d="M625.4,182.6 V189.1 M622.3,186.1 L625.4,189.3 L628.5,186.1" fill="none" stroke="#74bac6" stroke-width="0.75"/>
<text x="516.7" y="204.7" font-size="9.3" fill="#585858" textLength="77.0" lengthAdjust="spacingAndGlyphs" stroke="#585858" stroke-width="0.12">Успешных сделок:</text>
<text x="625.6" y="207.5" font-size="13" fill="#333" text-anchor="middle" textLength="14.5" lengthAdjust="spacingAndGlyphs" stroke="#333" stroke-width="0.3">60</text>
<text x="516.7" y="219.4" font-size="5.7" fill="#555" textLength="7.7" lengthAdjust="spacingAndGlyphs">CR</text>
<circle cx="531.4" cy="217.6" r="1.9" fill="none" stroke="#999" stroke-width="0.5"/>
<path d="M531.4,216.5 V217.6 H532.3" fill="none" stroke="#999" stroke-width="0.35"/>
<text x="537.7" y="219.4" font-size="5.7" fill="#555" textLength="16.7" lengthAdjust="spacingAndGlyphs">5.63%</text>
<text x="593.7" y="219.4" font-size="5.7" fill="#555" textLength="15.4" lengthAdjust="spacingAndGlyphs">CR(u)</text>
<circle cx="616.1" cy="217.6" r="1.9" fill="none" stroke="#999" stroke-width="0.5"/>
<path d="M616.1,216.5 V217.6 H617.0" fill="none" stroke="#999" stroke-width="0.35"/>
<text x="622.4" y="219.4" font-size="5.7" fill="#555" textLength="16.3" lengthAdjust="spacingAndGlyphs">8.43%</text>
<text x="670.0" y="219.4" font-size="5.7" fill="#555" textLength="12.3" lengthAdjust="spacingAndGlyphs">CPO</text>
<circle cx="689.3" cy="217.6" r="1.9" fill="none" stroke="#999" stroke-width="0.5"/>
<path d="M689.3,216.5 V217.6 H690.2" fill="none" stroke="#999" stroke-width="0.35"/>
<text x="695.6" y="219.4" font-size="5.7" fill="#555" textLength="30.0" lengthAdjust="spacingAndGlyphs">3 321.28 ₽</text>
<line x1="516.7" y1="229.0" x2="616.6" y2="229.0" stroke="#8d9397" stroke-width="1.1"/>
<line x1="634.2" y1="229.0" x2="734.3" y2="229.0" stroke="#8d9397" stroke-width="1.1"/>
<path d="M625.4,225.8 V232.3 M622.3,229.3 L625.4,232.5 L628.5,229.3" fill="none" stroke="#74bac6" stroke-width="0.75"/>
<text x="516.7" y="248.0" font-size="9.3" fill="#585858" textLength="38.0" lengthAdjust="spacingAndGlyphs" stroke="#585858" stroke-width="0.12">Выручка:</text>
<text x="734.2" y="251.0" font-size="13" fill="#111" text-anchor="end" textLength="70.6" lengthAdjust="spacingAndGlyphs" font-weight="bold">1 375 760 ₽</text>
<text x="516.7" y="270.3" font-size="9.3" fill="#666" textLength="24.0" lengthAdjust="spacingAndGlyphs">ROMI:</text>
<circle cx="547.3" cy="268.3" r="1.9" fill="none" stroke="#999" stroke-width="0.5"/>
<path d="M547.3,267.2 V268.3 H548.2" fill="none" stroke="#999" stroke-width="0.35"/>
<text x="554.3" y="270.7" font-size="12.5" fill="#111" textLength="50.0" lengthAdjust="spacingAndGlyphs" font-weight="bold">590.38%</text>
<text x="660.7" y="270.3" font-size="9.3" fill="#666" textLength="19.0" lengthAdjust="spacingAndGlyphs">ДРР:</text>
<circle cx="685.3" cy="268.3" r="1.9" fill="none" stroke="#999" stroke-width="0.5"/>
<path d="M685.3,267.2 V268.3 H686.2" fill="none" stroke="#999" stroke-width="0.35"/>
<text x="691.8" y="270.7" font-size="12.5" fill="#111" textLength="42.4" lengthAdjust="spacingAndGlyphs" font-weight="bold">14.48%</text>
</svg>
</div></div></body></html>
